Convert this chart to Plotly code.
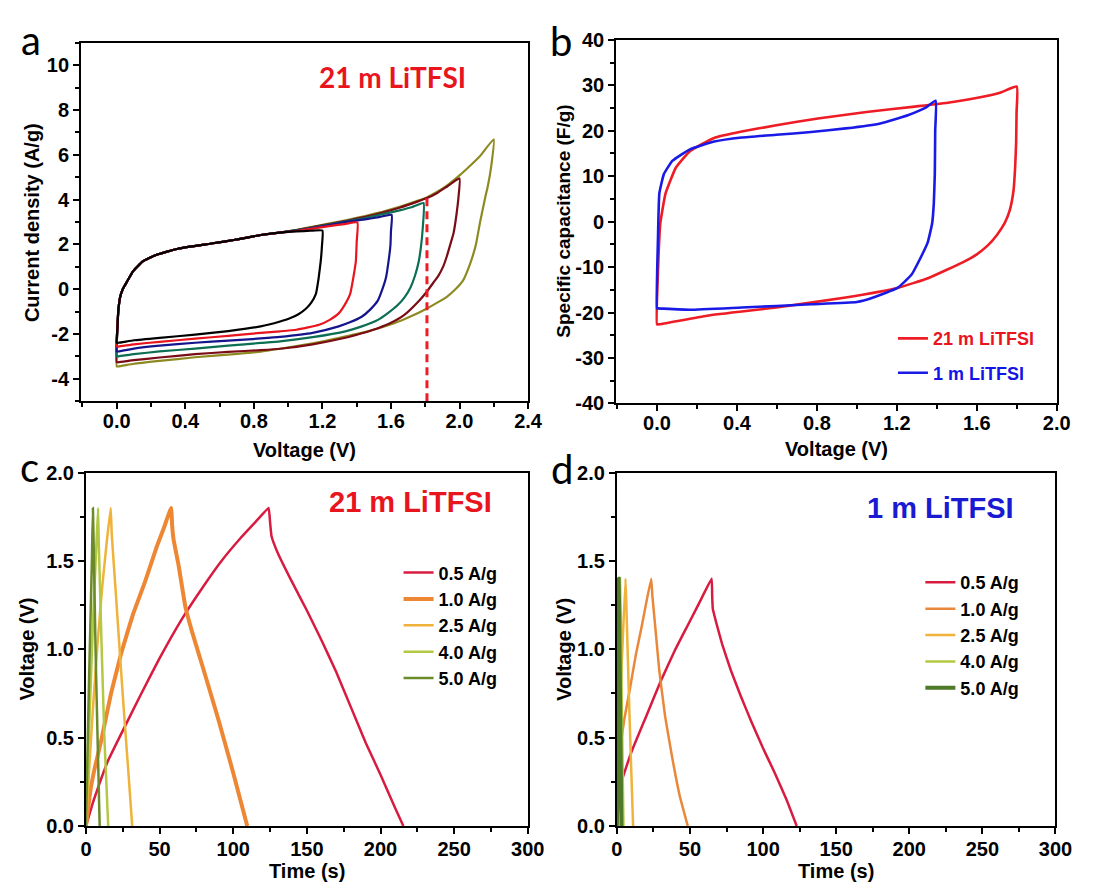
import plotly.graph_objects as go

# ---------------- Panel a: CV curves, 21 m LiTFSI, different voltage windows ----------------
# shared low-voltage part of the anodic sweep
fwd_v = [0.004, 0.01, 0.02, 0.035, 0.057, 0.095, 0.152, 0.229, 0.362, 0.552, 0.7, 0.84, 0.95]
fwd_i = [-1.7, -0.9, -0.35, 0.0, 0.3, 0.8, 1.24, 1.53, 1.82, 2.04, 2.22, 2.42, 2.53]

# 1.2 V window
v12_up = [1.05, 1.13, 1.2]
i12_up = [2.58, 2.61, 2.62]
v12_dn = [1.197, 1.19, 1.178, 1.162, 1.135, 1.105, 1.06, 1.01, 0.953, 0.84, 0.65, 0.457, 0.25, 0.1, 0.01, 0.0]
i12_dn = [1.9, 1.24, 0.5, -0.21, -0.6, -0.86, -1.12, -1.3, -1.44, -1.66, -1.87, -2.03, -2.17, -2.28, -2.39, -2.39]
i12_start = -2.39

# 1.4 V window
v14_up = [1.05, 1.15, 1.25, 1.33, 1.404]
i14_up = [2.6, 2.72, 2.83, 2.91, 2.98]
v14_dn = [1.4, 1.395, 1.38, 1.362, 1.33, 1.295, 1.24, 1.181, 1.048, 0.953, 0.84, 0.65, 0.457, 0.25, 0.1, 0.01, 0.0]
i14_dn = [2.1, 1.24, 0.5, -0.21, -0.7, -1.08, -1.38, -1.59, -1.81, -1.88, -1.95, -2.08, -2.21, -2.35, -2.46, -2.56, -2.56]
i14_start = -2.56

# 1.6 V window
v16_up = [1.05, 1.15, 1.25, 1.35, 1.45, 1.53, 1.604]
i16_up = [2.62, 2.74, 2.88, 3.02, 3.12, 3.22, 3.32]
v16_dn = [1.6, 1.597, 1.585, 1.571, 1.55, 1.524, 1.48, 1.429, 1.36, 1.295, 1.143, 0.953, 0.84, 0.65, 0.457, 0.25, 0.1, 0.01, 0.0]
i16_dn = [2.6, 1.97, 1.2, 0.52, 0.0, -0.5, -0.9, -1.23, -1.48, -1.66, -1.95, -2.13, -2.2, -2.3, -2.39, -2.52, -2.65, -2.78, -2.78]
i16_start = -2.78

# 1.8 V window
v18_up = [1.05, 1.15, 1.25, 1.35, 1.45, 1.55, 1.65, 1.72, 1.79]
i18_up = [2.63, 2.76, 2.9, 3.04, 3.18, 3.35, 3.52, 3.66, 3.85]
v18_dn = [1.785, 1.775, 1.762, 1.74, 1.714, 1.68, 1.638, 1.58, 1.524, 1.43, 1.334, 1.143, 0.953, 0.84, 0.65, 0.457, 0.25, 0.1, 0.01, 0.0]
i18_dn = [2.69, 1.9, 1.24, 0.6, 0.08, -0.35, -0.72, -1.08, -1.37, -1.66, -1.88, -2.14, -2.33, -2.4, -2.52, -2.65, -2.78, -2.9, -3.0, -3.0]
i18_start = -3.0

# 2.0 V window
v20_up = [1.05, 1.15, 1.25, 1.35, 1.45, 1.55, 1.65, 1.75, 1.81, 1.87, 1.93, 2.0]
i20_up = [2.64, 2.78, 2.92, 3.07, 3.23, 3.42, 3.64, 3.9, 4.07, 4.3, 4.6, 4.95]
v20_dn = [1.995, 1.981, 1.965, 1.945, 1.925, 1.905, 1.878, 1.848, 1.81, 1.76, 1.676, 1.6, 1.524, 1.43, 1.334, 1.143, 0.953, 0.84, 0.65, 0.457, 0.25, 0.1, 0.01, 0.0]
i20_dn = [4.2, 3.27, 2.5, 1.97, 1.45, 1.02, 0.62, 0.3, -0.1, -0.55, -1.16, -1.5, -1.74, -1.97, -2.17, -2.46, -2.66, -2.72, -2.8, -2.9, -3.05, -3.17, -3.26, -3.26]
i20_start = -3.26

# 2.2 V window
v22_up = [1.05, 1.15, 1.25, 1.35, 1.45, 1.55, 1.65, 1.75, 1.81, 1.87, 1.93, 2.0, 2.06, 2.12, 2.2]
i22_up = [2.65, 2.8, 2.95, 3.1, 3.27, 3.46, 3.68, 3.94, 4.1, 4.35, 4.65, 5.08, 5.5, 5.95, 6.7]
v22_dn = [2.185, 2.165, 2.15, 2.12, 2.095, 2.06, 2.019, 1.97, 1.924, 1.87, 1.81, 1.72, 1.619, 1.43, 1.25, 1.143, 0.953, 0.84, 0.65, 0.457, 0.25, 0.1, 0.01, 0.0]
i22_dn = [5.5, 4.6, 4.1, 3.0, 1.97, 1.1, 0.37, -0.05, -0.35, -0.6, -0.86, -1.2, -1.52, -1.95, -2.25, -2.42, -2.66, -2.79, -2.92, -3.04, -3.2, -3.33, -3.45, -3.45]
i22_start = -3.45

cv_windows = ["1.2 V", "1.4 V", "1.6 V", "1.8 V", "2.0 V", "2.2 V"]
cv_colors = ["#000000", "#e8141e", "#14148c", "#0c6e52", "#7a0c16", "#8e8a22"]

# limit marker at 1.8 V
limit_v = [1.81, 1.81]
limit_i = [-5.0, 4.07]

# ---------------- Panel b: specific capacitance vs voltage ----------------
b21_v = [0.0, 0.005, 0.017, 0.043, 0.095, 0.165, 0.286, 0.424, 0.597, 0.805, 1.048, 1.29, 1.463, 1.636, 1.72, 1.8,
         1.799, 1.797, 1.792, 1.784, 1.765, 1.74, 1.7, 1.654, 1.6, 1.532, 1.359, 1.203, 0.944, 0.597, 0.251, 0.009, 0.0]
b21_c = [-22.6, -11.0, -0.3, 6.2, 11.9, 15.5, 18.4, 19.8, 21.2, 22.7, 24.1, 25.3, 26.2, 27.5, 28.4, 29.7,
         24.0, 17.6, 12.0, 6.9, 2.5, -0.3, -3.0, -5.3, -7.2, -8.9, -12.4, -14.6, -16.7, -18.9, -20.7, -22.6, -22.6]
b1_v = [0.0, 0.005, 0.012, 0.035, 0.078, 0.165, 0.286, 0.424, 0.597, 0.771, 0.944, 1.117, 1.255, 1.342, 1.394,
        1.392, 1.39, 1.385, 1.377, 1.355, 1.325, 1.273, 1.203, 1.082, 1.0, 0.771, 0.424, 0.165, 0.005, 0.0]
b1_c = [-19.1, -3.8, 6.2, 10.5, 13.4, 15.9, 17.6, 18.5, 19.1, 19.7, 20.5, 21.6, 23.4, 25.0, 26.6,
        20.0, 10.5, 4.0, -0.3, -4.5, -7.4, -11.7, -14.6, -16.7, -17.7, -18.2, -18.9, -19.4, -19.1, -19.1]

# ---------------- Panel c: GCD, 21 m LiTFSI ----------------
rates = ["0.5 A/g", "1.0 A/g", "2.5 A/g", "4.0 A/g", "5.0 A/g"]
gcd_colors_c = ["#d81b40", "#ee8733", "#efb23a", "#b3c843", "#6b8b2b"]
gcd_widths_c = [2.5, 4.0, 2.5, 2.5, 2.5]

c05_t = [0, 5, 10, 15, 25, 37, 50, 65, 80, 92, 105, 115, 124, 125, 126, 130, 140, 150, 160, 170, 180, 190, 200, 210, 215.5]
c05_v = [0.0, 0.14, 0.26, 0.37, 0.54, 0.74, 0.95, 1.17, 1.36, 1.5, 1.63, 1.72, 1.8, 1.72, 1.64, 1.55, 1.38, 1.22, 1.05, 0.87, 0.67, 0.47, 0.29, 0.1, 0.0]
c10_t = [0, 3, 6, 10, 17, 24, 32, 40, 48, 53, 57.8, 58.5, 59.5, 63, 67.5, 72, 80, 90, 100, 109.5]
c10_v = [0.0, 0.2, 0.33, 0.47, 0.75, 0.98, 1.2, 1.38, 1.58, 1.69, 1.8, 1.7, 1.62, 1.47, 1.24, 1.1, 0.88, 0.6, 0.3, 0.0]
c25_t = [0, 2, 5, 8, 11, 14, 16.8, 17.5, 20, 23, 26, 29, 31.4]
c25_v = [0.0, 0.3, 0.7, 1.05, 1.35, 1.6, 1.8, 1.65, 1.35, 0.98, 0.62, 0.28, 0.0]
c40_t = [0, 1.5, 3, 5, 7, 8.2, 8.7, 10.5, 12.5, 15.1]
c40_v = [0.0, 0.4, 0.75, 1.2, 1.58, 1.8, 1.6, 1.05, 0.5, 0.0]
c50_t = [0, 1, 2, 3, 4, 4.7, 5.2, 6.5, 8, 9.3]
c50_v = [0.0, 0.4, 0.8, 1.15, 1.5, 1.8, 1.6, 1.0, 0.45, 0.0]

# ---------------- Panel d: GCD, 1 m LiTFSI ----------------
gcd_colors_d = ["#d81b40", "#e9883a", "#efb23a", "#b3c843", "#4f7a28"]
gcd_widths_d = [2.5, 2.5, 2.5, 2.5, 4.0]

d05_t = [0, 2.8, 10, 20, 30, 40, 50, 58, 64.8, 65.2, 65.6, 68, 72, 78, 85, 92, 100, 108, 116, 123]
d05_v = [0.0, 0.24, 0.42, 0.62, 0.82, 1.0, 1.16, 1.29, 1.4, 1.3, 1.23, 1.15, 1.03, 0.88, 0.73, 0.59, 0.44, 0.3, 0.15, 0.0]
d10_t = [0, 1, 2.5, 5, 9, 13, 17, 20, 23.5, 24.3, 26, 29, 33, 38, 43, 48.5]
d10_v = [0.0, 0.3, 0.45, 0.6, 0.78, 0.97, 1.13, 1.26, 1.4, 1.3, 1.15, 0.88, 0.62, 0.38, 0.17, 0.0]
d25_t = [0, 1, 2.5, 4, 5.9, 6.5, 8, 9.5, 11.1]
d25_v = [0.0, 0.35, 0.75, 1.05, 1.4, 1.25, 0.8, 0.4, 0.0]
d40_t = [0, 1, 2.1, 2.6, 3.5, 4.5]
d40_v = [0.0, 0.7, 1.4, 1.2, 0.6, 0.0]
d50_t = [0, 0.6, 1.2, 1.6, 2.3, 3.1]
d50_v = [0.0, 0.7, 1.4, 1.2, 0.6, 0.0]

# ---------------- tick positions and labels ----------------
a_xticks = [0.0, 0.4, 0.8, 1.2, 1.6, 2.0, 2.4]
a_xlabels = ["0.0", "0.4", "0.8", "1.2", "1.6", "2.0", "2.4"]
a_yticks = [-4, -2, 0, 2, 4, 6, 8, 10]
a_ylabels = ["-4", "-2", "0", "2", "4", "6", "8", "10"]
b_xticks = [0.0, 0.4, 0.8, 1.2, 1.6, 2.0]
b_xlabels = ["0.0", "0.4", "0.8", "1.2", "1.6", "2.0"]
b_yticks = [-40, -30, -20, -10, 0, 10, 20, 30, 40]
b_ylabels = ["-40", "-30", "-20", "-10", "0", "10", "20", "30", "40"]
t_ticks = [0, 50, 100, 150, 200, 250, 300]
t_labels = ["0", "50", "100", "150", "200", "250", "300"]
v_ticks = [0.0, 0.5, 1.0, 1.5, 2.0]
v_labels = ["0.0", "0.5", "1.0", "1.5", "2.0"]

# ---------------- figure ----------------
W, H = 1094, 895
FONT = "Liberation Sans, Arial, sans-serif"
LETTER_FONT = "Lato, sans-serif"

fig = go.Figure()

cv_sets = [
    (v12_up, i12_up, v12_dn, i12_dn, i12_start),
    (v14_up, i14_up, v14_dn, i14_dn, i14_start),
    (v16_up, i16_up, v16_dn, i16_dn, i16_start),
    (v18_up, i18_up, v18_dn, i18_dn, i18_start),
    (v20_up, i20_up, v20_dn, i20_dn, i20_start),
    (v22_up, i22_up, v22_dn, i22_dn, i22_start),
]
for k in range(len(cv_sets) - 1, -1, -1):
    vu, iu, vd, idn, i0 = cv_sets[k]
    xs = [0.0] + fwd_v + vu + vd
    ys = [i0] + fwd_i + iu + idn
    fig.add_trace(go.Scatter(
        x=xs, y=ys, mode="lines", name=cv_windows[k], showlegend=False,
        line=dict(color=cv_colors[k], width=2.2, shape="spline", smoothing=0.4),
        xaxis="x", yaxis="y"))

fig.add_trace(go.Scatter(
    x=limit_v, y=limit_i, mode="lines", showlegend=False,
    line=dict(color="#ee1c24", width=3, dash="8px,5px"), xaxis="x", yaxis="y"))

fig.add_trace(go.Scatter(
    x=b21_v, y=b21_c, mode="lines", legend="legend", legendgroup="b21",
    name="<span style='color:#e8141e'>21 m LiTFSI</span>",
    line=dict(color="#ee1c24", width=2.6, shape="spline", smoothing=0.4),
    xaxis="x2", yaxis="y2"))
fig.add_trace(go.Scatter(
    x=b1_v, y=b1_c, mode="lines", legend="legend", legendgroup="b1",
    name="<span style='color:#1414e6'>1 m LiTFSI</span>",
    line=dict(color="#1a1ae6", width=2.6, shape="spline", smoothing=0.4),
    xaxis="x2", yaxis="y2"))

c_sets = [(c05_t, c05_v), (c10_t, c10_v), (c25_t, c25_v), (c40_t, c40_v), (c50_t, c50_v)]
for k, (tt, vv) in enumerate(c_sets):
    fig.add_trace(go.Scatter(
        x=tt, y=vv, mode="lines", name=rates[k], legend="legend2", legendgroup="c" + str(k),
        line=dict(color=gcd_colors_c[k], width=gcd_widths_c[k], shape="spline", smoothing=0.3),
        xaxis="x3", yaxis="y3"))

d_sets = [(d05_t, d05_v), (d10_t, d10_v), (d25_t, d25_v), (d40_t, d40_v), (d50_t, d50_v)]
for k, (tt, vv) in enumerate(d_sets):
    fig.add_trace(go.Scatter(
        x=tt, y=vv, mode="lines", name=rates[k], legend="legend3", legendgroup="d" + str(k),
        line=dict(color=gcd_colors_d[k], width=gcd_widths_d[k], shape="spline", smoothing=0.3),
        xaxis="x4", yaxis="y4"))


def px_x(p):
    return p / W


def px_y(p):
    return 1 - p / H


def axis(domain, rng, tickvals, ticklabels, minor_dtick, anchor, standoff):
    return dict(
        domain=domain, range=rng, anchor=anchor,
        tickmode="array", tickvals=tickvals, ticktext=["<b>" + s + "</b>" for s in ticklabels],
        showline=True, linecolor="black", linewidth=2, mirror=True,
        ticks="outside", ticklen=6, tickwidth=2, tickcolor="black",
        ticklabelstandoff=standoff,
        minor=dict(dtick=minor_dtick, tick0=0, ticks="outside", ticklen=4, tickwidth=2, tickcolor="black"),
        showgrid=False, zeroline=False,
        tickfont=dict(family=FONT, size=20, color="black"),
    )


ax_a = [px_x(76.7), px_x(533.3)]
ay_a = [px_y(400), px_y(32.7)]
ax_b = [px_x(623.3), px_x(1073.3)]
ay_b = [px_y(402.3), px_y(29.5)]
ax_c = [px_x(81.7), px_x(533)]
ay_c = [px_y(835.5), px_y(473.3)]
ax_d = [px_x(624), px_x(1072)]
ay_d = [px_y(835.5), px_y(473.3)]

legend_common = dict(
    xanchor="left", yanchor="top", bgcolor="rgba(0,0,0,0)", borderwidth=0,
    traceorder="grouped", itemwidth=30,
    font=dict(family=FONT, size=18, color="black", weight=700),
)

fig.update_layout(
    width=W, height=H, margin=dict(l=0, r=0, t=0, b=0),
    paper_bgcolor="white", plot_bgcolor="white",
    xaxis=axis(ax_a, [-0.208, 2.4], a_xticks, a_xlabels, 0.2, "y", -5),
    yaxis=axis(ay_a, [-5, 11], a_yticks, a_ylabels, 1, "x", 0),
    xaxis2=axis(ax_b, [-0.204, 2.0], b_xticks, b_xlabels, 0.2, "y2", -5),
    yaxis2=axis(ay_b, [-40, 40], b_yticks, b_ylabels, 5, "x2", 0),
    xaxis3=axis(ax_c, [0, 300], t_ticks, t_labels, 25, "y3", -2),
    yaxis3=axis(ay_c, [0, 2], v_ticks, v_labels, 0.25, "x3", 0),
    xaxis4=axis(ax_d, [0, 300], t_ticks, t_labels, 25, "y4", -2),
    yaxis4=axis(ay_d, [0, 2], v_ticks, v_labels, 0.25, "x4", 0),
    legend=dict(legend_common, x=px_x(906), y=px_y(317), tracegroupgap=8),
    legend2=dict(legend_common, x=px_x(401), y=px_y(557), tracegroupgap=0),
    legend3=dict(legend_common, x=px_x(934), y=px_y(567), tracegroupgap=0),
)


def label(text, x, y, size=20, color="black", angle=0, family=FONT, bold=True):
    fig.add_annotation(
        text=text, xref="paper", yref="paper", x=px_x(x), y=px_y(y),
        xanchor="center", yanchor="middle", showarrow=False, textangle=angle,
        font=dict(family=family, size=size, color=color, weight=700 if bold else 400))


# axis titles
label("Voltage (V)", 305, 450)
label("Current density (A/g)", 26, 217, angle=-90)
label("Voltage (V)", 848, 449)
label("Specific capacitance (F/g)", 570, 216, size=19, angle=-90)
label("Time (s)", 307, 882)
label("Voltage (V)", 21, 654, angle=-90)
label("Time (s)", 848, 882)
label("Voltage (V)", 570, 655, angle=-90)

# in-panel titles
label("21 m LiTFSI", 395, 68, size=28, color="#e8141e", family=LETTER_FONT)
label("21 m LiTFSI", 413, 503, size=29, color="#e8141e")
label("1 m LiTFSI", 955, 510, size=29, color="#1a1ad2")

# panel letters
label("a", 26, 30, size=40, family=LETTER_FONT, bold=False)
label("b", 567, 31, size=40, family=LETTER_FONT, bold=False)
label("c", 24, 468, size=40, family=LETTER_FONT, bold=False)
label("d", 568, 470, size=40, family=LETTER_FONT, bold=False)

fig.write_html("out.html")
